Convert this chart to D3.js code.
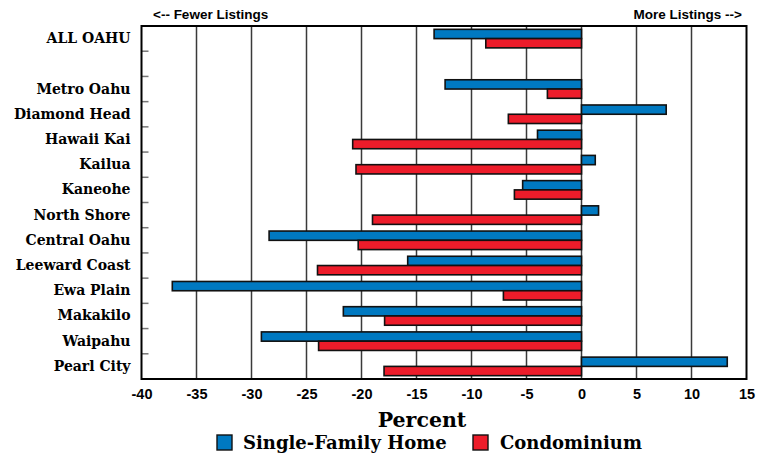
<!DOCTYPE html>
<html>
<head>
<meta charset="utf-8">
<script src="https://cdn.jsdelivr.net/npm/d3@7"></script>
<style>
  html, body { margin: 0; padding: 0; background: #fff; }
  svg { display: block; }
</style>
</head>
<body>
<svg id="chart" width="772" height="453"></svg>
<script>
// Regions, top to bottom; the empty entry is a spacer row under the island-wide total
const regions = ["ALL OAHU", "", "Metro Oahu", "Diamond Head", "Hawaii Kai", "Kailua", "Kaneohe",
  "North Shore", "Central Oahu", "Leeward Coast", "Ewa Plain", "Makakilo", "Waipahu", "Pearl City"];
// Percent change in active listings
const singleFamily = [-13.4, null, -12.4, 7.7, -4.0, 1.25, -5.35, 1.55, -28.4, -15.8, -37.2, -21.65, -29.1, 13.25];
const condominium  = [-8.7, null, -3.1, -6.65, -20.8, -20.5, -6.1, -19.0, -20.3, -24.0, -7.1, -17.9, -23.9, -17.95];
const xTicks = [-40, -35, -30, -25, -20, -15, -10, -5, 0, 5, 10, 15];
const seriesNames = ["Single-Family Home", "Condominium"];
const seriesColors = ["#0079c1", "#ed1c2a"];

const slab = "'DejaVu Serif', serif";
const sans = "'Liberation Sans', Arial, sans-serif";

const svg = d3.select("#chart");
const m = { left: 141.5, right: 746.5, top: 26, bottom: 379 };

const keys = regions.map((r, i) => r || "row" + i);
const x = d3.scaleLinear().domain([-40, 15]).range([m.left, m.right]);
const y = d3.scaleBand().domain(keys).range([m.top, m.bottom]).padding(0);
const sub = d3.scaleBand().domain(seriesNames).range([0, y.bandwidth()]).paddingInner(0).paddingOuter(0.36);

// vertical grid lines
svg.append("g").selectAll("line").data(xTicks.slice(1, -1)).join("line")
  .attr("x1", d => x(d)).attr("x2", d => x(d))
  .attr("y1", m.top).attr("y2", m.bottom)
  .attr("stroke", "#3a3a3a").attr("stroke-width", 1.5);

// short ticks between category rows
svg.append("g").selectAll("line").data(keys.slice(1)).join("line")
  .attr("x1", m.left).attr("x2", m.left + 7)
  .attr("y1", d => y(d)).attr("y2", d => y(d))
  .attr("stroke", "#777").attr("stroke-width", 1.5);

// bars
const rows = keys.map((k, i) => ({ k, vals: [singleFamily[i], condominium[i]] }));
const barData = [];
rows.forEach(r => r.vals.forEach((v, j) => { if (v != null) barData.push({ k: r.k, s: seriesNames[j], v, j }); }));
svg.append("g").selectAll("rect").data(barData).join("rect")
  .attr("x", d => x(Math.min(0, d.v)))
  .attr("width", d => Math.abs(x(d.v) - x(0)))
  .attr("y", d => y(d.k) + sub(d.s))
  .attr("height", sub.bandwidth())
  .attr("fill", d => seriesColors[d.j])
  .attr("stroke", "#111").attr("stroke-width", 1.6);

// frame
svg.append("rect")
  .attr("x", m.left).attr("y", m.top)
  .attr("width", m.right - m.left).attr("height", m.bottom - m.top)
  .attr("fill", "none").attr("stroke", "#000").attr("stroke-width", 2);

// x-axis labels (plain hyphen for negatives)
const xAxis = d3.axisBottom(x).tickValues(xTicks).tickSize(0).tickPadding(10).tickFormat(d => String(d));
const gx = svg.append("g").attr("transform", `translate(0,${m.bottom})`).call(xAxis);
gx.select(".domain").remove();
gx.selectAll("text").attr("font-family", sans).attr("font-weight", "bold").attr("font-size", 14.5).attr("fill", "#000");

// category labels
const yAxis = d3.axisLeft(y).tickSize(0).tickPadding(11).tickFormat((d, i) => regions[i]);
const gy = svg.append("g").attr("transform", `translate(${m.left},0)`).call(yAxis);
gy.select(".domain").remove();
gy.selectAll("text").attr("font-family", slab).attr("font-weight", "bold").attr("font-size", 14)
  .attr("fill", "#000");

// direction notes
svg.append("text").attr("x", 153).attr("y", 19).attr("font-family", sans).attr("font-weight", "bold")
  .attr("font-size", 13.5).text("<-- Fewer Listings");
svg.append("text").attr("x", 742).attr("y", 19).attr("text-anchor", "end").attr("font-family", sans)
  .attr("font-weight", "bold").attr("font-size", 13.5).text("More Listings -->");

// axis title
svg.append("text").attr("x", 422).attr("y", 427).attr("text-anchor", "middle")
  .attr("font-family", slab).attr("font-weight", "bold").attr("font-size", 20.5).text("Percent");

// legend
const legendPos = [{ sx: 217, tx: 243 }, { sx: 473, tx: 500 }];
const lg = svg.append("g").selectAll("g").data(seriesNames).join("g");
lg.append("rect").attr("x", (d, i) => legendPos[i].sx).attr("y", 435).attr("width", 15).attr("height", 15)
  .attr("fill", (d, i) => seriesColors[i]).attr("stroke", "#111").attr("stroke-width", 1.4);
lg.append("text").attr("x", (d, i) => legendPos[i].tx).attr("y", 449)
  .attr("font-family", slab).attr("font-weight", "bold").attr("font-size", 18).text(d => d);
</script>
</body>
</html>
